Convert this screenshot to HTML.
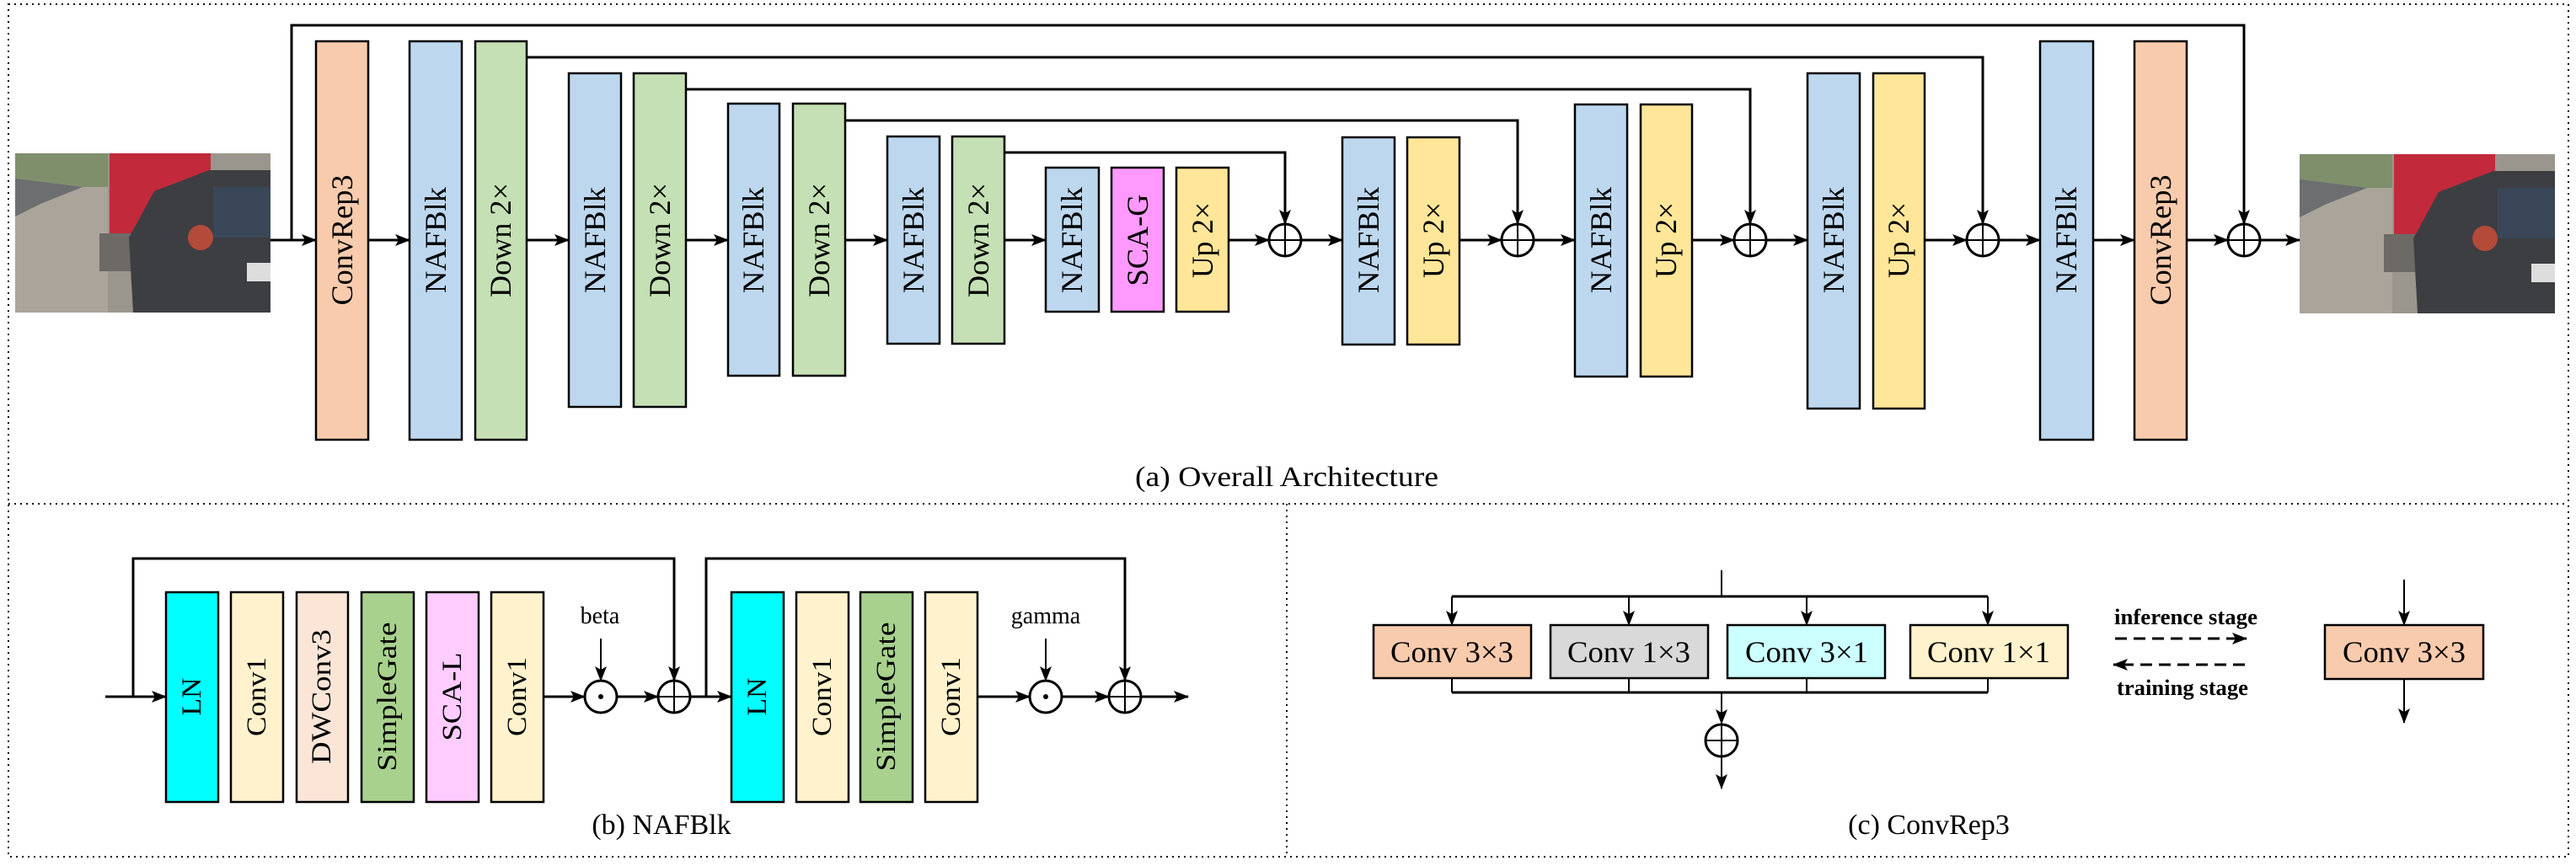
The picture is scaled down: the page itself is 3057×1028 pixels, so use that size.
<!DOCTYPE html>
<html><head><meta charset="utf-8"><style>html,body{margin:0;padding:0;background:#fff}svg{display:block}</style></head>
<body>
<svg xmlns="http://www.w3.org/2000/svg" width="3057" height="1028" viewBox="0 0 3057 1028" font-family="Liberation Serif, serif">
<defs>
<marker id="ah" markerWidth="18" markerHeight="14" refX="17" refY="7" orient="auto" markerUnits="userSpaceOnUse"><path d="M0,0 L18,7 L0,14 L4,7 Z" fill="#000"/></marker>
<clipPath id="c1"><rect x="18" y="182" width="303" height="189"/></clipPath>
<clipPath id="c2"><rect x="2729" y="183" width="303" height="189"/></clipPath>
<g id="photo">
<rect x="0" y="0" width="303" height="189" fill="#9b968d"/>
<rect x="0" y="0" width="110" height="60" fill="#7f8f6c"/>
<rect x="0" y="40" width="110" height="149" fill="#aaa49a"/>
<polygon points="0,30 0,75 30,60 80,40" fill="#6c6e70"/>
<rect x="112" y="0" width="120" height="110" fill="#c22a3c"/>
<rect x="100" y="95" width="40" height="45" fill="#6d6a66"/>
<polygon points="140,189 135,100 165,45 230,20 303,20 303,189" fill="#3d3e42"/>
<rect x="235" y="40" width="68" height="60" fill="#3a4758"/>
<circle cx="220" cy="100" r="15" fill="#b44a3a"/>
<rect x="275" y="130" width="28" height="22" fill="#ddd"/>
</g>
</defs>

<g stroke="#000" stroke-width="2" stroke-dasharray="2,5" fill="none">
<rect x="10" y="5" width="3038" height="1012"/>
<line x1="10" y1="598" x2="3048" y2="598"/>
<line x1="1527" y1="598" x2="1527" y2="1017"/>
</g>

<g clip-path="url(#c1)"><use href="#photo" transform="translate(18,182)"/></g>
<g clip-path="url(#c2)"><use href="#photo" transform="translate(2729,183)"/></g>

<g stroke="#000" fill="none" stroke-width="3">
<polyline points="346,285 346,30 2663,30 2663,266" marker-end="url(#ah)"/>
<polyline points="625,68 2353,68 2353,266" marker-end="url(#ah)"/>
<polyline points="814,106 2077,106 2077,266" marker-end="url(#ah)"/>
<polyline points="1003,143 1801,143 1801,266" marker-end="url(#ah)"/>
<polyline points="1192,181 1525,181 1525,266" marker-end="url(#ah)"/>
</g>
<g stroke="#000" stroke-width="3" marker-end="url(#ah)">
<line x1="321" y1="285" x2="375" y2="285"/>
<line x1="437" y1="285" x2="486" y2="285"/>
<line x1="625" y1="285" x2="675" y2="285"/>
<line x1="814" y1="285" x2="864" y2="285"/>
<line x1="1003" y1="285" x2="1053" y2="285"/>
<line x1="1192" y1="285" x2="1241" y2="285"/>
<line x1="1458" y1="285" x2="1506" y2="285"/>
<line x1="1544" y1="285" x2="1593" y2="285"/>
<line x1="1732" y1="285" x2="1782" y2="285"/>
<line x1="1820" y1="285" x2="1869" y2="285"/>
<line x1="2008" y1="285" x2="2058" y2="285"/>
<line x1="2096" y1="285" x2="2145" y2="285"/>
<line x1="2284" y1="285" x2="2334" y2="285"/>
<line x1="2372" y1="285" x2="2421" y2="285"/>
<line x1="2484" y1="285" x2="2533" y2="285"/>
<line x1="2595" y1="285" x2="2644" y2="285"/>
<line x1="2682" y1="285" x2="2729" y2="285"/>
</g>
<g stroke="#000" stroke-width="3" fill="#fff">
<circle cx="1525" cy="285" r="19"/><circle cx="1801" cy="285" r="19"/><circle cx="2077" cy="285" r="19"/><circle cx="2353" cy="285" r="19"/><circle cx="2663" cy="285" r="19"/>
</g>
<g stroke="#000" stroke-width="2">
<line x1="1506" y1="285" x2="1544" y2="285"/><line x1="1525" y1="266" x2="1525" y2="304"/>
<line x1="1782" y1="285" x2="1820" y2="285"/><line x1="1801" y1="266" x2="1801" y2="304"/>
<line x1="2058" y1="285" x2="2096" y2="285"/><line x1="2077" y1="266" x2="2077" y2="304"/>
<line x1="2334" y1="285" x2="2372" y2="285"/><line x1="2353" y1="266" x2="2353" y2="304"/>
<line x1="2644" y1="285" x2="2682" y2="285"/><line x1="2663" y1="266" x2="2663" y2="304"/>
</g>

<g stroke="#000" stroke-width="2.5">
<rect x="375" y="49" width="62" height="473" fill="#f8cbad"/>
<rect x="486" y="49" width="62" height="473" fill="#bdd7ee"/>
<rect x="564" y="49" width="61" height="473" fill="#c5e0b4"/>
<rect x="675" y="87" width="62" height="396" fill="#bdd7ee"/>
<rect x="752" y="87" width="62" height="396" fill="#c5e0b4"/>
<rect x="864" y="123" width="61" height="323" fill="#bdd7ee"/>
<rect x="941" y="123" width="62" height="323" fill="#c5e0b4"/>
<rect x="1053" y="162" width="62" height="246" fill="#bdd7ee"/>
<rect x="1130" y="162" width="62" height="246" fill="#c5e0b4"/>
<rect x="1241" y="199" width="63" height="171" fill="#bdd7ee"/>
<rect x="1319" y="199" width="62" height="171" fill="#ff99ff"/>
<rect x="1396" y="199" width="62" height="171" fill="#ffe699"/>
<rect x="1593" y="163" width="62" height="246" fill="#bdd7ee"/>
<rect x="1670" y="163" width="62" height="246" fill="#ffe699"/>
<rect x="1869" y="124" width="62" height="323" fill="#bdd7ee"/>
<rect x="1947" y="124" width="61" height="323" fill="#ffe699"/>
<rect x="2145" y="87" width="62" height="398" fill="#bdd7ee"/>
<rect x="2223" y="87" width="61" height="398" fill="#ffe699"/>
<rect x="2421" y="49" width="63" height="473" fill="#bdd7ee"/>
<rect x="2533" y="49" width="62" height="473" fill="#f8cbad"/>
</g>
<g font-size="36" text-anchor="middle" dominant-baseline="central" fill="#000">
<text transform="translate(406,285) rotate(-90)" textLength="155" lengthAdjust="spacingAndGlyphs">ConvRep3</text>
<text transform="translate(517,285) rotate(-90)" textLength="126" lengthAdjust="spacingAndGlyphs">NAFBlk</text>
<text transform="translate(594,285) rotate(-90)" textLength="136" lengthAdjust="spacingAndGlyphs">Down 2×</text>
<text transform="translate(706,285) rotate(-90)" textLength="126" lengthAdjust="spacingAndGlyphs">NAFBlk</text>
<text transform="translate(783,285) rotate(-90)" textLength="136" lengthAdjust="spacingAndGlyphs">Down 2×</text>
<text transform="translate(894,285) rotate(-90)" textLength="126" lengthAdjust="spacingAndGlyphs">NAFBlk</text>
<text transform="translate(972,285) rotate(-90)" textLength="136" lengthAdjust="spacingAndGlyphs">Down 2×</text>
<text transform="translate(1084,285) rotate(-90)" textLength="126" lengthAdjust="spacingAndGlyphs">NAFBlk</text>
<text transform="translate(1161,285) rotate(-90)" textLength="136" lengthAdjust="spacingAndGlyphs">Down 2×</text>
<text transform="translate(1272,285) rotate(-90)" textLength="126" lengthAdjust="spacingAndGlyphs">NAFBlk</text>
<text transform="translate(1350,285) rotate(-90)" textLength="109" lengthAdjust="spacingAndGlyphs">SCA-G</text>
<text transform="translate(1427,285) rotate(-90)" textLength="90" lengthAdjust="spacingAndGlyphs">Up 2×</text>
<text transform="translate(1624,285) rotate(-90)" textLength="126" lengthAdjust="spacingAndGlyphs">NAFBlk</text>
<text transform="translate(1701,285) rotate(-90)" textLength="90" lengthAdjust="spacingAndGlyphs">Up 2×</text>
<text transform="translate(1900,285) rotate(-90)" textLength="126" lengthAdjust="spacingAndGlyphs">NAFBlk</text>
<text transform="translate(1977,285) rotate(-90)" textLength="90" lengthAdjust="spacingAndGlyphs">Up 2×</text>
<text transform="translate(2176,285) rotate(-90)" textLength="126" lengthAdjust="spacingAndGlyphs">NAFBlk</text>
<text transform="translate(2253,285) rotate(-90)" textLength="90" lengthAdjust="spacingAndGlyphs">Up 2×</text>
<text transform="translate(2452,285) rotate(-90)" textLength="126" lengthAdjust="spacingAndGlyphs">NAFBlk</text>
<text transform="translate(2564,285) rotate(-90)" textLength="155" lengthAdjust="spacingAndGlyphs">ConvRep3</text>
</g>
<text x="1527" y="577" font-size="34" text-anchor="middle" textLength="360" lengthAdjust="spacingAndGlyphs">(a) Overall Architecture</text>

<g stroke="#000" fill="none" stroke-width="3">
<polyline points="158,827 158,663 800,663 800,808" marker-end="url(#ah)"/>
<polyline points="838,827 838,663 1335,663 1335,808" marker-end="url(#ah)"/>
</g>
<g stroke="#000" stroke-width="2" marker-end="url(#ah)">
<line x1="713" y1="758" x2="713" y2="808"/>
<line x1="1241" y1="758" x2="1241" y2="808"/>
</g>
<g stroke="#000" stroke-width="3" marker-end="url(#ah)">
<line x1="125" y1="827" x2="197" y2="827"/>
<line x1="645" y1="827" x2="694" y2="827"/>
<line x1="732" y1="827" x2="781" y2="827"/>
<line x1="819" y1="827" x2="868" y2="827"/>
<line x1="1160" y1="827" x2="1222" y2="827"/>
<line x1="1260" y1="827" x2="1316" y2="827"/>
<line x1="1354" y1="827" x2="1410" y2="827"/>
</g>
<g stroke="#000" stroke-width="3" fill="#fff">
<circle cx="713" cy="827" r="19"/><circle cx="800" cy="827" r="19"/><circle cx="1241" cy="827" r="19"/><circle cx="1335" cy="827" r="19"/>
</g>
<g stroke="#000" stroke-width="2">
<line x1="781" y1="827" x2="819" y2="827"/><line x1="800" y1="808" x2="800" y2="846"/>
<line x1="1316" y1="827" x2="1354" y2="827"/><line x1="1335" y1="808" x2="1335" y2="846"/>
</g>
<circle cx="713" cy="827" r="3" fill="#000"/><circle cx="1241" cy="827" r="3" fill="#000"/>
<g stroke="#000" stroke-width="2.5">
<rect x="197" y="703" width="62" height="249" fill="#00ffff"/>
<rect x="274" y="703" width="62" height="249" fill="#fff2cc"/>
<rect x="352" y="703" width="61" height="249" fill="#fbe5d6"/>
<rect x="429" y="703" width="62" height="249" fill="#a9d18e"/>
<rect x="506" y="703" width="62" height="249" fill="#ffccff"/>
<rect x="583" y="703" width="62" height="249" fill="#fff2cc"/>
<rect x="868" y="703" width="62" height="249" fill="#00ffff"/>
<rect x="945" y="703" width="62" height="249" fill="#fff2cc"/>
<rect x="1021" y="703" width="62" height="249" fill="#a9d18e"/>
<rect x="1098" y="703" width="62" height="249" fill="#fff2cc"/>
</g>
<g font-size="33" text-anchor="middle" dominant-baseline="central">
<text transform="translate(228,827) rotate(-90)" textLength="45" lengthAdjust="spacingAndGlyphs">LN</text>
<text transform="translate(305,827) rotate(-90)" textLength="94" lengthAdjust="spacingAndGlyphs">Conv1</text>
<text transform="translate(382,827) rotate(-90)" textLength="160" lengthAdjust="spacingAndGlyphs">DWConv3</text>
<text transform="translate(460,827) rotate(-90)" textLength="177" lengthAdjust="spacingAndGlyphs">SimpleGate</text>
<text transform="translate(537,827) rotate(-90)" textLength="105" lengthAdjust="spacingAndGlyphs">SCA-L</text>
<text transform="translate(614,827) rotate(-90)" textLength="94" lengthAdjust="spacingAndGlyphs">Conv1</text>
<text transform="translate(899,827) rotate(-90)" textLength="45" lengthAdjust="spacingAndGlyphs">LN</text>
<text transform="translate(976,827) rotate(-90)" textLength="94" lengthAdjust="spacingAndGlyphs">Conv1</text>
<text transform="translate(1052,827) rotate(-90)" textLength="177" lengthAdjust="spacingAndGlyphs">SimpleGate</text>
<text transform="translate(1129,827) rotate(-90)" textLength="94" lengthAdjust="spacingAndGlyphs">Conv1</text>
</g>
<text x="712" y="740" font-size="28" text-anchor="middle">beta</text>
<text x="1241" y="740" font-size="28" text-anchor="middle">gamma</text>
<text x="785" y="990" font-size="34" text-anchor="middle">(b) NAFBlk</text>

<g stroke="#000" fill="none" stroke-width="2">
<line x1="2043" y1="677" x2="2043" y2="708"/>
<line x1="1723" y1="708" x2="2359" y2="708" stroke-width="3"/>
<line x1="1723" y1="708" x2="1723" y2="742" marker-end="url(#ah)"/>
<line x1="1933" y1="708" x2="1933" y2="742" marker-end="url(#ah)"/>
<line x1="2144" y1="708" x2="2144" y2="742" marker-end="url(#ah)"/>
<line x1="2359" y1="708" x2="2359" y2="742" marker-end="url(#ah)"/>
<line x1="1723" y1="805" x2="1723" y2="822"/><line x1="1933" y1="805" x2="1933" y2="822"/>
<line x1="2144" y1="805" x2="2144" y2="822"/><line x1="2359" y1="805" x2="2359" y2="822"/>
<line x1="1723" y1="822" x2="2359" y2="822" stroke-width="3"/>
<line x1="2043" y1="822" x2="2043" y2="859" marker-end="url(#ah)"/>
<line x1="2043" y1="899" x2="2043" y2="936" marker-end="url(#ah)"/>
<line x1="2853" y1="688" x2="2853" y2="742" marker-end="url(#ah)"/>
<line x1="2853" y1="806" x2="2853" y2="858" marker-end="url(#ah)"/>
<line x1="2510" y1="758" x2="2666" y2="758" stroke-width="3" stroke-dasharray="14,8" marker-end="url(#ah)"/>
<line x1="2664" y1="789" x2="2508" y2="789" stroke-width="3" stroke-dasharray="14,8" marker-end="url(#ah)"/>
</g>
<circle cx="2043" cy="879" r="19" stroke="#000" stroke-width="3" fill="#fff"/>
<g stroke="#000" stroke-width="2"><line x1="2024" y1="879" x2="2062" y2="879"/><line x1="2043" y1="860" x2="2043" y2="898"/></g>
<g stroke="#000" stroke-width="2.5">
<rect x="1630" y="742" width="187" height="63" fill="#f8cbad"/>
<rect x="1840" y="742" width="187" height="63" fill="#d9d9d9"/>
<rect x="2050" y="742" width="187" height="63" fill="#ccffff"/>
<rect x="2267" y="742" width="187" height="63" fill="#fff2cc"/>
<rect x="2759" y="742" width="188" height="64" fill="#f8cbad"/>
</g>
<g font-size="36" text-anchor="middle" dominant-baseline="central">
<text x="1723" y="774" textLength="146" lengthAdjust="spacingAndGlyphs">Conv 3×3</text>
<text x="1933" y="774" textLength="146" lengthAdjust="spacingAndGlyphs">Conv 1×3</text>
<text x="2144" y="774" textLength="146" lengthAdjust="spacingAndGlyphs">Conv 3×1</text>
<text x="2360" y="774" textLength="146" lengthAdjust="spacingAndGlyphs">Conv 1×1</text>
<text x="2853" y="774" textLength="146" lengthAdjust="spacingAndGlyphs">Conv 3×3</text>
</g>
<g font-size="26" font-weight="bold" text-anchor="middle">
<text x="2594" y="741" textLength="170" lengthAdjust="spacingAndGlyphs">inference stage</text>
<text x="2590" y="825" textLength="156" lengthAdjust="spacingAndGlyphs">training stage</text>
</g>
<text x="2289" y="990" font-size="34" text-anchor="middle">(c) ConvRep3</text>
</svg>
</body></html>
